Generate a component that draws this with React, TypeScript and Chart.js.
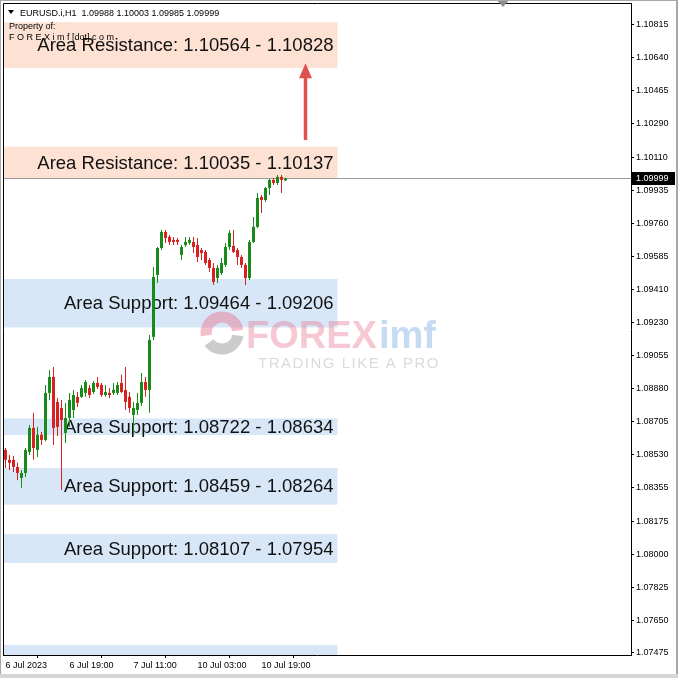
import React, { useEffect, useRef } from 'react';
import { Chart, registerables } from 'chart.js';

Chart.register(...registerables);

// ---- Candle data (EURUSD H1, from 6 Jul 2023 03:00) ----
const opens = [
  1.08555, 1.08502, 1.08502, 1.08464, 1.08406, 1.08432, 1.08544, 1.08672, 1.08555, 1.08635,
  1.08608, 1.08858, 1.08943, 1.08810, 1.08778, 1.08645, 1.08725, 1.08767, 1.08837, 1.08837,
  1.08858, 1.08884, 1.08863, 1.08911, 1.08900, 1.08847, 1.08858, 1.08858, 1.08858, 1.08911,
  1.08874, 1.08837, 1.08741, 1.08767, 1.08805, 1.08916, 1.08874, 1.09156, 1.09485, 1.09629,
  1.09714, 1.09688, 1.09672, 1.09672, 1.09592, 1.09645, 1.09656, 1.09661, 1.09645, 1.09618,
  1.09608, 1.09565, 1.09523, 1.09469, 1.09496, 1.09539, 1.09634, 1.09640, 1.09618, 1.09581,
  1.09539, 1.09469, 1.09661, 1.09741, 1.09900, 1.09884, 1.09948, 1.09991, 1.09975, 1.10007,
  1.09988,
];
const highs = [
  1.08565, 1.08528, 1.08523, 1.08486, 1.08448, 1.08565, 1.08688, 1.08752, 1.08677, 1.08650,
  1.08900, 1.08980, 1.08996, 1.08831, 1.08821, 1.08805, 1.08858, 1.08874, 1.08863, 1.08900,
  1.08927, 1.08900, 1.08922, 1.08943, 1.08911, 1.08900, 1.08884, 1.08911, 1.08916, 1.08954,
  1.08996, 1.08863, 1.08810, 1.08858, 1.08964, 1.08943, 1.09166, 1.09528, 1.09634, 1.09725,
  1.09725, 1.09698, 1.09688, 1.09682, 1.09645, 1.09688, 1.09688, 1.09688, 1.09682, 1.09629,
  1.09618, 1.09576, 1.09549, 1.09539, 1.09576, 1.09656, 1.09725, 1.09725, 1.09629, 1.09592,
  1.09549, 1.09672, 1.09794, 1.09922, 1.09911, 1.09953, 1.09996, 1.10001, 1.10017, 1.10017,
  1.10003,
];
const lows = [
  1.08459, 1.08448, 1.08438, 1.08395, 1.08353, 1.08411, 1.08528, 1.08502, 1.08517, 1.08581,
  1.08600, 1.08821, 1.08581, 1.08629, 1.08342, 1.08592, 1.08677, 1.08725, 1.08783, 1.08831,
  1.08837, 1.08831, 1.08852, 1.08879, 1.08837, 1.08837, 1.08831, 1.08847, 1.08847, 1.08858,
  1.08767, 1.08752, 1.08635, 1.08741, 1.08789, 1.08837, 1.08752, 1.09140, 1.09443, 1.09618,
  1.09656, 1.09645, 1.09645, 1.09645, 1.09565, 1.09634, 1.09645, 1.09602, 1.09555, 1.09565,
  1.09539, 1.09501, 1.09432, 1.09443, 1.09485, 1.09528, 1.09618, 1.09602, 1.09539, 1.09523,
  1.09432, 1.09459, 1.09656, 1.09735, 1.09815, 1.09874, 1.09911, 1.09964, 1.09964, 1.09922,
  1.09985,
];
const closes = [
  1.08502, 1.08486, 1.08464, 1.08432, 1.08432, 1.08555, 1.08672, 1.08565, 1.08635, 1.08608,
  1.08858, 1.08943, 1.08672, 1.08677, 1.08714, 1.08725, 1.08821, 1.08847, 1.08805, 1.08884,
  1.08916, 1.08847, 1.08911, 1.08890, 1.08847, 1.08863, 1.08847, 1.08874, 1.08900, 1.08863,
  1.08810, 1.08778, 1.08778, 1.08805, 1.08916, 1.08874, 1.09140, 1.09475, 1.09629, 1.09714,
  1.09682, 1.09661, 1.09661, 1.09661, 1.09634, 1.09661, 1.09672, 1.09634, 1.09581, 1.09602,
  1.09549, 1.09523, 1.09448, 1.09523, 1.09549, 1.09634, 1.09709, 1.09608, 1.09581, 1.09539,
  1.09469, 1.09661, 1.09741, 1.09895, 1.09884, 1.09948, 1.09991, 1.09975, 1.10007, 1.09991,
  1.09999,
];

// ---- Axis ticks ----
const yTicks = [
  1.10815, 1.1064, 1.10465, 1.1029, 1.1011, 1.09935, 1.0976, 1.09585, 1.0941, 1.0923,
  1.09055, 1.0888, 1.08705, 1.0853, 1.08355, 1.08175, 1.08, 1.07825, 1.0765, 1.07475,
];
const xTickIndex = [0, 16, 32, 48, 64];
const xTickLabels = ['6 Jul 2023', '6 Jul 19:00', '7 Jul 11:00', '10 Jul 03:00', '10 Jul 19:00'];

// ---- Zones ----
const zoneTops = [1.1083, 1.10168, 1.09464, 1.08722, 1.08459, 1.08107, 1.07518];
const zoneBottoms = [1.10586, 1.09996, 1.09206, 1.08634, 1.08264, 1.07954, 1.074];
const zoneKinds = ['res', 'res', 'sup', 'sup', 'sup', 'sup', 'sup'];
const zoneLabels = [
  'Area Resistance: 1.10564 - 1.10828',
  'Area Resistance: 1.10035 - 1.10137',
  'Area Support: 1.09464 - 1.09206',
  'Area Support: 1.08722 - 1.08634',
  'Area Support: 1.08459 - 1.08264',
  'Area Support: 1.08107 - 1.07954',
  '',
];
const zoneEndIndex = 83;

const headerText = 'EURUSD.i,H1  1.09988 1.10003 1.09985 1.09999';
const bidPrice = 1.09999;
const arrowIndex = 75;
const arrowFrom = 1.10203;
const arrowTo = 1.10612;

const GREEN = '#1a8a1a';
const RED = '#d82222';
const SMALL_FONT = '9px "Liberation Sans", Arial, sans-serif';

const overlayPlugin = {
  id: 'mtOverlay',
  beforeDraw(chart: any) {
    const ctx = chart.ctx;
    ctx.save();
    ctx.fillStyle = '#ffffff';
    ctx.fillRect(0, 0, chart.width, chart.height);
    ctx.restore();
  },
  beforeDatasetsDraw(chart: any) {
    const { ctx, chartArea: a, scales } = chart;
    const x = scales.x;
    const y = scales.y;
    ctx.save();
    ctx.beginPath();
    ctx.rect(a.left, a.top, a.right - a.left, a.bottom - a.top);
    ctx.clip();
    const right = x.getPixelForValue(zoneEndIndex);
    for (let i = 0; i < zoneTops.length; i++) {
      const t = y.getPixelForValue(zoneTops[i]);
      const b = y.getPixelForValue(zoneBottoms[i]);
      ctx.fillStyle = zoneKinds[i] === 'res' ? '#fde2d4' : '#d7e7f7';
      ctx.fillRect(a.left + 1, t, right - a.left - 1, b - t);
    }
    ctx.fillStyle = '#111111';
    ctx.font = '18.5px "Liberation Sans", Arial, sans-serif';
    ctx.textAlign = 'right';
    ctx.textBaseline = 'middle';
    for (let i = 0; i < zoneTops.length; i++) {
      if (!zoneLabels[i]) continue;
      const t = y.getPixelForValue(zoneTops[i]);
      const b = y.getPixelForValue(zoneBottoms[i]);
      ctx.fillText(zoneLabels[i], right - 4, (t + b) / 2 + 1);
    }
    // bid line
    const by = Math.round(y.getPixelForValue(bidPrice)) + 0.5;
    ctx.strokeStyle = '#9a9a9a';
    ctx.lineWidth = 1;
    ctx.beginPath();
    ctx.moveTo(a.left, by);
    ctx.lineTo(a.right, by);
    ctx.stroke();
    ctx.restore();
  },
  afterDatasetsDraw(chart: any) {
    const { ctx, scales } = chart;
    const x = scales.x;
    const y = scales.y;
    // watermark
    ctx.save();
    ctx.lineCap = 'butt';
    ctx.lineWidth = 11;
    ctx.strokeStyle = 'rgba(232,110,140,0.45)';
    ctx.beginPath();
    ctx.arc(222, 333, 16, Math.PI * 0.95, Math.PI * 1.95);
    ctx.stroke();
    ctx.strokeStyle = 'rgba(110,110,110,0.35)';
    ctx.beginPath();
    ctx.arc(222, 333, 16, Math.PI * 0.05, Math.PI * 0.8);
    ctx.stroke();
    ctx.font = 'bold 38px "Liberation Sans", Arial, sans-serif';
    ctx.textAlign = 'left';
    ctx.textBaseline = 'alphabetic';
    ctx.fillStyle = 'rgba(232,110,140,0.38)';
    ctx.fillText('FOREX', 246, 348);
    const fw = ctx.measureText('FOREX').width;
    ctx.fillStyle = 'rgba(100,160,220,0.38)';
    ctx.fillText('imf', 246 + fw + 2, 348);
    ctx.font = '15px "Liberation Sans", Arial, sans-serif';
    (ctx as any).letterSpacing = '1.5px';
    ctx.fillStyle = 'rgba(150,150,150,0.35)';
    ctx.fillText('TRADING LIKE A PRO', 258, 368);
    (ctx as any).letterSpacing = '0px';
    ctx.restore();

    // arrow
    const ax = x.getPixelForValue(arrowIndex);
    const y0 = y.getPixelForValue(arrowFrom);
    const y1 = y.getPixelForValue(arrowTo);
    ctx.save();
    ctx.strokeStyle = '#e05252';
    ctx.fillStyle = '#e05252';
    ctx.lineWidth = 3.5;
    ctx.beginPath();
    ctx.moveTo(ax, y0);
    ctx.lineTo(ax, y1 + 12);
    ctx.stroke();
    ctx.beginPath();
    ctx.moveTo(ax, y1);
    ctx.lineTo(ax - 6.5, y1 + 15);
    ctx.lineTo(ax + 6.5, y1 + 15);
    ctx.closePath();
    ctx.fill();
    ctx.restore();
  },
  afterDraw(chart: any) {
    const { ctx, chartArea: a, scales } = chart;
    const y = scales.y;
    ctx.save();
    // frame left/top
    ctx.strokeStyle = '#000000';
    ctx.lineWidth = 1;
    ctx.beginPath();
    ctx.moveTo(a.left + 0.5, a.bottom);
    ctx.lineTo(a.left + 0.5, a.top + 0.5);
    ctx.lineTo(a.right, a.top + 0.5);
    ctx.stroke();
    // header
    ctx.fillStyle = '#000000';
    ctx.beginPath();
    ctx.moveTo(8, 10);
    ctx.lineTo(14, 10);
    ctx.lineTo(11, 14);
    ctx.closePath();
    ctx.fill();
    ctx.font = SMALL_FONT;
    ctx.textAlign = 'left';
    ctx.textBaseline = 'alphabetic';
    ctx.fillText(headerText, 20, 16);
    ctx.fillText('Property of:', 9, 29);
    ctx.fillText('F O R E X i m f [dot] c o m', 9, 40);
    // bid price label
    const by = Math.round(y.getPixelForValue(bidPrice));
    ctx.fillStyle = '#000000';
    ctx.fillRect(a.right + 1, by - 6, 43, 13);
    ctx.fillStyle = '#ffffff';
    ctx.textBaseline = 'middle';
    ctx.fillText(bidPrice.toFixed(5), a.right + 5, by + 1);
    // top-right shift marker
    ctx.fillStyle = '#8c8c8c';
    ctx.beginPath();
    ctx.moveTo(497, 0);
    ctx.lineTo(509, 0);
    ctx.lineTo(503, 7);
    ctx.closePath();
    ctx.fill();
    // window edges
    ctx.fillStyle = '#a8a8a8';
    ctx.fillRect(0, 0, chart.width, 1);
    ctx.fillRect(0, 0, 1, chart.height);
    ctx.fillRect(chart.width - 2, 0, 2, chart.height);
    ctx.fillStyle = '#d6d6d6';
    ctx.fillRect(0, chart.height - 4, chart.width, 4);
    ctx.restore();
  },
};

export default function App() {
  const ref = useRef<HTMLCanvasElement | null>(null);
  useEffect(() => {
    if (!ref.current) return;
    const colors = opens.map((o, i) => (closes[i] >= o ? GREEN : RED));
    const wicks = opens.map((_, i) => ({ x: i, y: [lows[i], highs[i]] }));
    const bodies = opens.map((o, i) => ({ x: i, y: [o, closes[i]] }));
    const chart = new Chart(ref.current, {
      type: 'bar',
      data: {
        datasets: [
          {
            label: 'wick',
            data: wicks as any,
            backgroundColor: colors,
            barThickness: 1,
            grouped: false,
            borderWidth: 0,
            inflateAmount: 0,
            minBarLength: 1,
            order: 2,
          } as any,
          {
            label: 'body',
            data: bodies as any,
            backgroundColor: colors,
            barThickness: 3,
            grouped: false,
            borderWidth: 0,
            inflateAmount: 0,
            minBarLength: 1,
            order: 1,
          } as any,
        ],
      },
      options: {
        responsive: false,
        animation: false,
        devicePixelRatio: 1,
        layout: { padding: { left: 3, top: 3, right: 0, bottom: 0 } },
        plugins: {
          legend: { display: false },
          tooltip: { enabled: false },
        },
        scales: {
          x: {
            type: 'linear',
            position: 'bottom',
            min: -0.625,
            max: 156.375,
            offset: false,
            grid: { display: true, drawOnChartArea: false, drawTicks: true, tickLength: 3, color: '#000000' },
            border: { display: true, color: '#000000', width: 1 },
            ticks: {
              autoSkip: false,
              maxRotation: 0,
              minRotation: 0,
              align: 'start',
              padding: 2,
              color: '#000000',
              font: { family: '"Liberation Sans", Arial, sans-serif', size: 9 },
              callback: (v: any) => {
                const k = xTickIndex.indexOf(Number(v));
                return k >= 0 ? xTickLabels[k] : '';
              },
            },
            afterBuildTicks: (s: any) => {
              s.ticks = xTickIndex.map((v) => ({ value: v }));
            },
            afterFit: (s: any) => {
              s.height = 23;
              s.paddingLeft = 0;
              s.paddingRight = 0;
            },
          } as any,
          y: {
            type: 'linear',
            position: 'right',
            min: 1.07464,
            max: 1.10932,
            grid: { display: true, drawOnChartArea: false, drawTicks: true, tickLength: 3, color: '#000000' },
            border: { display: true, color: '#000000', width: 1 },
            ticks: {
              autoSkip: false,
              padding: 2,
              color: '#000000',
              font: { family: '"Liberation Sans", Arial, sans-serif', size: 9 },
              callback: (v: any) => Number(v).toFixed(5),
            },
            afterBuildTicks: (s: any) => {
              s.ticks = yTicks.map((v) => ({ value: v }));
            },
            afterFit: (s: any) => {
              s.width = 47;
              s.paddingTop = 0;
              s.paddingBottom = 0;
            },
          } as any,
        },
      },
      plugins: [overlayPlugin],
    });
    return () => chart.destroy();
  }, []);
  return (
    <div style={{ position: 'fixed', left: 0, top: 0, width: 678, height: 678, background: '#fff' }}>
      <canvas ref={ref} width={678} height={678} style={{ display: 'block' }} />
    </div>
  );
}
